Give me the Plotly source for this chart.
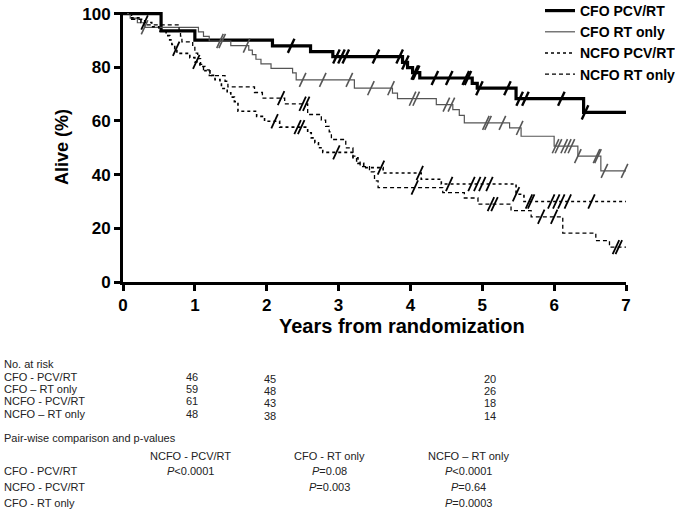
import numpy as np
import plotly.graph_objects as go

# ---------------- data ----------------
series_names = ["CFO PCV/RT", "CFO RT only", "NCFO PCV/RT", "NCFO RT only"]

cfo_pcv_t = [0, 0.53, 1.0, 2.08, 2.61, 2.92, 3.89, 3.96, 4.03, 4.13, 4.86, 4.93, 5.47, 6.41, 7.0]
cfo_pcv_s = [100, 93.6, 90.1, 88.0, 85.8, 84.0, 81.8, 79.9, 78.0, 76.0, 74.0, 72.2, 68.3, 63.2, 63.2]
cfo_pcv_c = [2.34, 2.97, 3.04, 3.1, 3.52, 3.85, 3.93, 4.06, 4.08, 4.34, 4.54, 4.77, 4.8, 4.96, 5.35, 5.52, 5.6, 6.1, 6.43]

cfo_rt_t = [0, 0.1, 0.2, 0.3, 1.05, 1.12, 1.2, 1.5, 1.75, 1.8, 1.85, 1.92, 2.06, 2.36, 2.41, 3.22,
            3.75, 3.82, 4.36, 4.59, 4.68, 4.75, 5.38, 5.54, 6.0, 6.33, 6.65, 7.0]
cfo_rt_s = [100, 98.3, 96.6, 94.9, 93.2, 91.5, 89.8, 88.1, 86.4, 84.7, 83.0, 81.3, 79.6, 77.9, 75.3, 72.2,
            70.4, 68.3, 66.1, 64.2, 62.1, 59.3, 57.4, 54.3, 50.6, 46.9, 41.4, 41.4]
cfo_rt_c = [0.3, 1.35, 1.38, 1.72, 2.5, 2.78, 3.15, 3.45, 3.73, 4.03, 4.08, 4.5, 4.57, 5.05, 5.08, 5.28,
            5.52, 6.02, 6.06, 6.14, 6.19, 6.24, 6.33, 6.59, 6.61, 6.7, 6.98]

ncfo_pcv_t = [0, 0.12, 0.25, 0.4, 0.5, 0.6, 0.65, 0.68, 0.72, 0.75, 0.93, 1.0, 1.07, 1.14, 1.21, 1.28,
              1.35, 1.37, 1.45, 1.5, 1.55, 1.6, 1.86, 1.97, 2.18, 2.57, 2.62, 2.67, 2.72, 2.78, 3.2,
              3.27, 3.35, 3.62, 4.15, 4.43, 5.47, 5.58, 7.0]
ncfo_pcv_s = [100, 98.4, 96.7, 95.1, 93.4, 91.8, 90.2, 88.5, 86.9, 85.2, 83.6, 82.0, 80.3, 78.7, 77.0, 75.4,
              73.8, 72.1, 70.5, 68.9, 67.2, 63.6, 61.7, 59.9, 57.7, 55.6, 53.7, 51.9, 50.0, 48.3, 46.3,
              44.2, 42.6, 40.6, 38.3, 36.5, 32.7, 30.0, 30.0]
ncfo_pcv_c = [0.3, 0.74, 1.02, 2.11, 2.43, 2.48, 2.97, 3.59, 4.13, 4.54, 4.85, 4.93, 5.0, 5.1, 5.47,
              5.65, 5.68, 5.96, 6.03, 6.1, 6.19, 6.52]

ncfo_rt_t = [0, 0.12, 0.3, 0.78, 0.8, 0.82, 0.97, 1.0, 1.04, 1.08, 1.12, 1.2, 1.42, 1.46, 1.83, 1.94,
             2.25, 2.57, 2.76, 2.82, 2.87, 2.9, 3.1, 3.2, 3.25, 3.3, 3.43, 3.5, 3.55, 4.45, 4.75, 4.94,
             5.4, 5.68, 6.12, 6.58, 6.77, 7.0]
ncfo_rt_s = [100, 97.9, 95.8, 93.7, 91.6, 89.5, 87.4, 85.3, 83.2, 81.1, 79.0, 76.9, 74.8, 72.7, 70.6, 68.5,
             66.4, 62.4, 60.3, 58.0, 55.9, 53.1, 50.0, 46.9, 45.0, 43.0, 41.0, 37.7, 35.2, 33.3, 31.3, 29.0,
             26.6, 24.3, 18.2, 15.4, 13.0, 13.0]
ncfo_rt_c = [2.2, 2.5, 2.55, 4.06, 5.12, 5.17, 5.82, 6.0, 6.86, 6.9]

x_ticks = [0, 1, 2, 3, 4, 5, 6, 7]
y_ticks = [0, 20, 40, 60, 80, 100]

risk_groups = ["CFO - PCV/RT", "CFO \u2013 RT only", "NCFO - PCV/RT", "NCFO \u2013 RT only"]
risk_values = [[46, 45, 20], [59, 48, 26], [61, 43, 18], [48, 38, 14]]

pair_rows = ["CFO - PCV/RT", "NCFO - PCV/RT", "CFO - RT only"]
pair_cols = ["NCFO - PCV/RT", "CFO - RT only", "NCFO \u2013 RT only"]
pair_p = [["&lt;0.0001", "=0.08", "&lt;0.0001"],
          ["", "=0.003", "=0.64"],
          ["", "", "=0.0003"]]

# ---------------- styling ----------------
FONT = "Arial, Liberation Sans, sans-serif"
W, H = 675, 515
L, R, T, B = 123, 626, 12, 282


def px(x):
    return (x - L) / (R - L)


def py(y):
    return (B - y) / (B - T)


styles = [
    dict(color="black", width=3.2, dash="solid"),
    dict(color="#555555", width=1.2, dash="solid"),
    dict(color="black", width=1.6, dash="dot"),
    dict(color="black", width=1.3, dash="4px,3px"),
]
mwidth = [2.4, 1.6, 1.8, 1.8]

data = [(cfo_pcv_t, cfo_pcv_s, cfo_pcv_c), (cfo_rt_t, cfo_rt_s, cfo_rt_c),
        (ncfo_pcv_t, ncfo_pcv_s, ncfo_pcv_c), (ncfo_rt_t, ncfo_rt_s, ncfo_rt_c)]

fig = go.Figure()
for i, (t, s, c) in enumerate(data):
    fig.add_trace(go.Scatter(x=t, y=s, mode="lines", line_shape="hv", name=series_names[i],
                             line=styles[i]))
for i, (t, s, c) in enumerate(data):
    ta = np.array(t)
    idx = np.searchsorted(ta, np.array(c), side="right") - 1
    cy = np.array(s)[idx]
    fig.add_trace(go.Scatter(x=c, y=cy, mode="markers", showlegend=False, cliponaxis=False,
                             marker=dict(symbol="line-ne", size=11, angle=-20,
                                         line=dict(color=styles[i]["color"], width=mwidth[i]))))

fig.update_layout(
    width=W, height=H,
    margin=dict(l=L, r=W - R, t=T, b=H - B, pad=0, autoexpand=False),
    plot_bgcolor="white", paper_bgcolor="white",
    font=dict(family=FONT, color="black"),
    showlegend=True,
    legend=dict(x=px(540), y=py(-5), xanchor="left", yanchor="top",
                font=dict(size=14, family=FONT, color="black", weight="bold"),
                bgcolor="rgba(0,0,0,0)", tracegroupgap=0, itemwidth=30),
    xaxis=dict(range=[0, 7], tickvals=x_ticks, showline=True, linecolor="black", linewidth=3,
               ticks="outside", ticklen=6, tickwidth=2.5, tickcolor="black",
               tickfont=dict(size=17, family=FONT, weight="bold"), showgrid=False, zeroline=False),
    yaxis=dict(range=[0, 100.6], tickvals=y_ticks, showline=True, linecolor="black", linewidth=3,
               ticks="outside", ticklen=6, tickwidth=2.5, tickcolor="black",
               tickfont=dict(size=17, family=FONT, weight="bold"), showgrid=False, zeroline=False),
)

ann = []
ann.append(dict(text="<b>Years from randomization</b>", x=px(402), y=py(326), xref="paper", yref="paper",
                showarrow=False, xanchor="center", yanchor="middle", font=dict(size=20, family=FONT)))
ann.append(dict(text="<b>Alive (%)</b>", x=px(62), y=py(147), xref="paper", yref="paper", textangle=-90,
                showarrow=False, xanchor="center", yanchor="middle", font=dict(size=18, family=FONT)))

TC = "#222222"
tfont = dict(size=11, family=FONT, color=TC)


def txt(s, x, y, anchor="left"):
    ann.append(dict(text=s, x=px(x), y=py(y), xref="paper", yref="paper", showarrow=False,
                    xanchor=anchor, yanchor="middle", font=tfont, borderpad=0))


txt("No. at risk", 3, 364)
risk_x = [192, 270, 490]
risk_dy = [0, 2, 2]
for r, g in enumerate(risk_groups):
    yy = 377 + 12.2 * r
    txt(g, 3, yy)
    for k, v in enumerate(risk_values[r]):
        txt(str(v), risk_x[k], yy + risk_dy[k], "center")

txt("Pair-wise comparison and p-values", 3, 438)
col_x = [190, 329, 468]
for k, cname in enumerate(pair_cols):
    txt(cname, col_x[k], 456, "center")
for r, rname in enumerate(pair_rows):
    yy = 471 + 16 * r
    txt(rname, 3, yy)
    for k, p in enumerate(pair_p[r]):
        if p:
            txt("<i>P</i>" + p, col_x[k], yy, "center")

fig.update_layout(annotations=ann)
fig.write_html("out.html", config={"displayModeBar": False},
               post_script="document.body.style.margin='0px';")
